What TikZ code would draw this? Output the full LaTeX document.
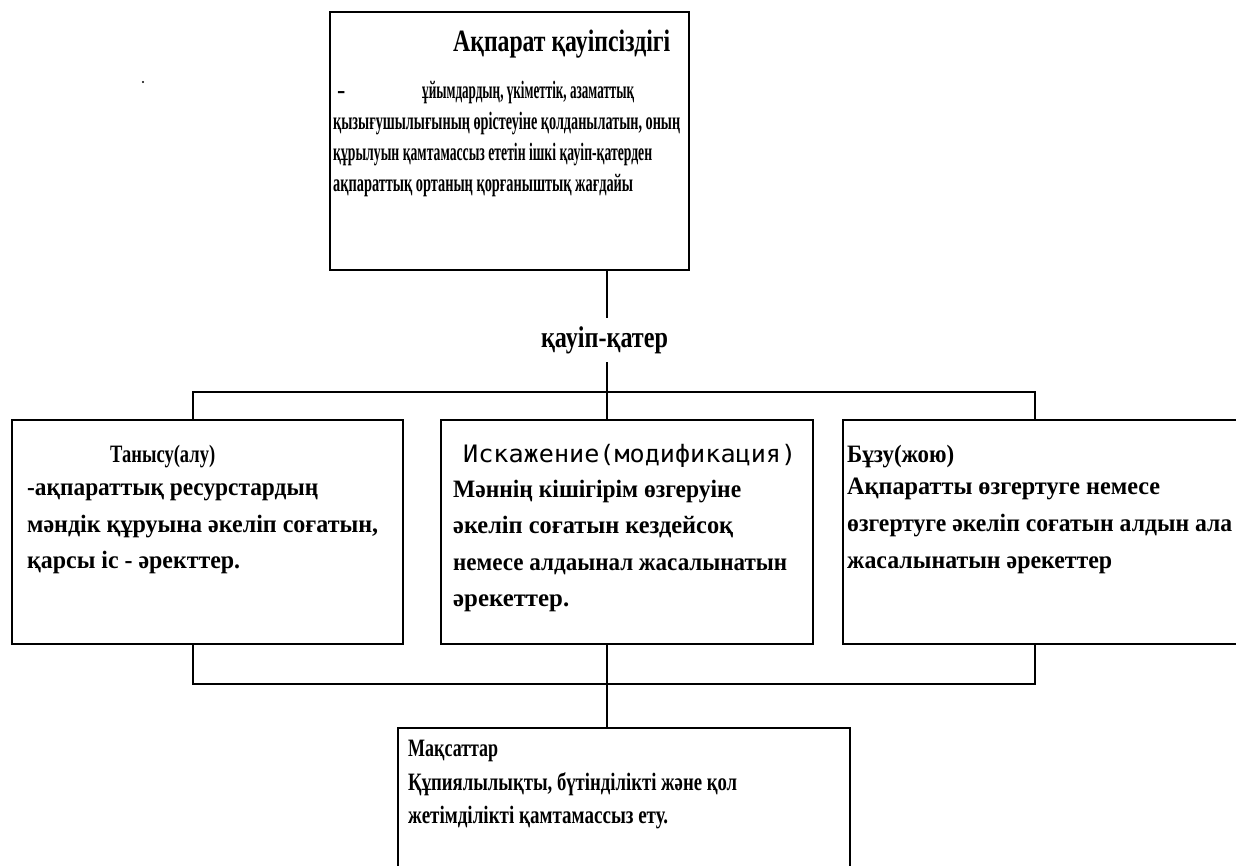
\documentclass[tikz,border=0pt]{standalone}
\usepackage{fontspec}
\usepackage{graphicx}
\setmainfont{Liberation Serif}
\newfontfamily\monofam{DejaVu Sans Mono}
% set a line at a given width (pt) while keeping its natural height
\newcommand\fitto[2]{\resizebox{#1pt}{\height}{#2}}
\begin{document}
\begin{tikzpicture}[x=1pt,y=-1pt,
  wire/.style={draw=black,line width=1.8pt},
  panel/.style={draw=black,line width=1.8pt,fill=white,inner sep=0,outer sep=0},
  txt/.style={anchor=base west,inner sep=0,text=black},
  headf/.style={font=\fontsize{31}{36}\selectfont\bfseries},
  topf/.style={font=\fontsize{25}{29}\selectfont\bfseries},
  boxf/.style={font=\fontsize{25}{29}\selectfont\bfseries},
  monof/.style={font=\fontsize{24}{28}\selectfont\monofam}]
\useasboundingbox (0,0) rectangle (1236,866);
\fill[white] (0,0) rectangle (1236,866);

% boxes
\node[panel,minimum width=359pt,minimum height=258pt] (top) at (509.5,141) {};
\node[panel,minimum width=391pt,minimum height=224pt] (b1) at (207.5,532) {};
\node[panel,minimum width=372pt,minimum height=224pt] (b2) at (627,532) {};
\node[panel,minimum width=395pt,minimum height=224pt] (b3) at (1040.5,532) {};
\node[panel,minimum width=452pt,minimum height=144pt] (b4) at (624,800) {};

% stray mark
\fill[black] (143,82) circle (1.1pt);

% label on the trunk
\node[inner sep=0,minimum height=44pt,font=\fontsize{30}{34}\selectfont\bfseries] (threat) at (604.5,340) {\fitto{127}{қауіп-қатер}};

% junction points
\coordinate (hub) at (607,392);
\coordinate (hubL) at (193,392);
\coordinate (hubR) at (1035,392);
\coordinate (lowL) at (193,684);
\coordinate (lowR) at (1035,684);
\coordinate (lowM) at (607,684);

% connectors
\draw[wire] (top.south -| hub) -- (threat.north -| hub);
\draw[wire] (threat.south -| hub) -- (hub);
\draw[wire] (hubL |- b1.north) -- (hubL) -- (hubR) -- (hubR |- b3.north);
\draw[wire] (hub) -- (hub |- b2.north);
\draw[wire] (lowL |- b1.south) -- (lowL) -- (lowR) -- (lowR |- b3.south);
\draw[wire] (lowM |- b2.south) -- (lowM |- b4.north);

% top box text
\node[txt,headf] (h0) at (453,52) {\fitto{217}{Ақпарат қауіпсіздігі}};
\node[txt,topf] (h1a) at (337,99) {-};
\node[txt,topf] (h1) at (422,99) {\fitto{212}{ұйымдардың, үкіметтік, азаматтық}};
\node[txt,topf] (h2) at (333,130) {\fitto{347}{қызығушылығының өрістеуіне қолданылатын, оның}};
\node[txt,topf] (h3) at (333,161) {\fitto{319}{құрылуын қамтамассыз ететін ішкі қауіп-қатерден}};
\node[txt,topf] (h4) at (333,192) {\fitto{300}{ақпараттық ортаның қорғаныштық жағдайы}};

% first box
\node[txt,boxf] (p0) at (110,462) {\fitto{105}{Танысу(алу)}};
\node[txt,boxf] (p1) at (27,495) {\fitto{291}{-ақпараттық ресурстардың}};
\node[txt,boxf] (p2) at (27,532) {\fitto{351}{мәндік құруына әкеліп соғатын,}};
\node[txt,boxf] (p3) at (27,568) {\fitto{213}{қарсы іс - әректтер.}};

% second box
\node[txt,monof] (q0) at (463,462) {\fitto{333}{Искажение(модификация)}};
\node[txt,boxf] (q1) at (453,497) {\fitto{288}{Мәннің кішігірім өзгеруіне}};
\node[txt,boxf] (q2) at (453,533) {\fitto{280}{әкеліп соғатын кездейсоқ}};
\node[txt,boxf] (q3) at (453,570) {\fitto{334}{немесе алдаынал жасалынатын}};
\node[txt,boxf] (q4) at (453,606) {\fitto{116}{әрекеттер.}};

% third box
\node[txt,boxf] (r0) at (847,462) {\fitto{107}{Бұзу(жою)}};
\node[txt,boxf] (r1) at (847,494) {\fitto{313}{Ақпаратты өзгертуге немесе}};
\node[txt,boxf] (r2) at (847,531) {\fitto{385}{өзгертуге әкеліп соғатын алдын ала}};
\node[txt,boxf] (r3) at (847,568) {\fitto{265}{жасалынатын әрекеттер}};

% bottom box
\node[txt,topf] (s0) at (408,756) {\fitto{90}{Мақсаттар}};
\node[txt,topf] (s1) at (408,790) {\fitto{329}{Құпиялылықты, бүтінділікті және қол}};
\node[txt,topf] (s2) at (408,823) {\fitto{260}{жетімділікті қамтамассыз ету.}};
\end{tikzpicture}
\end{document}
